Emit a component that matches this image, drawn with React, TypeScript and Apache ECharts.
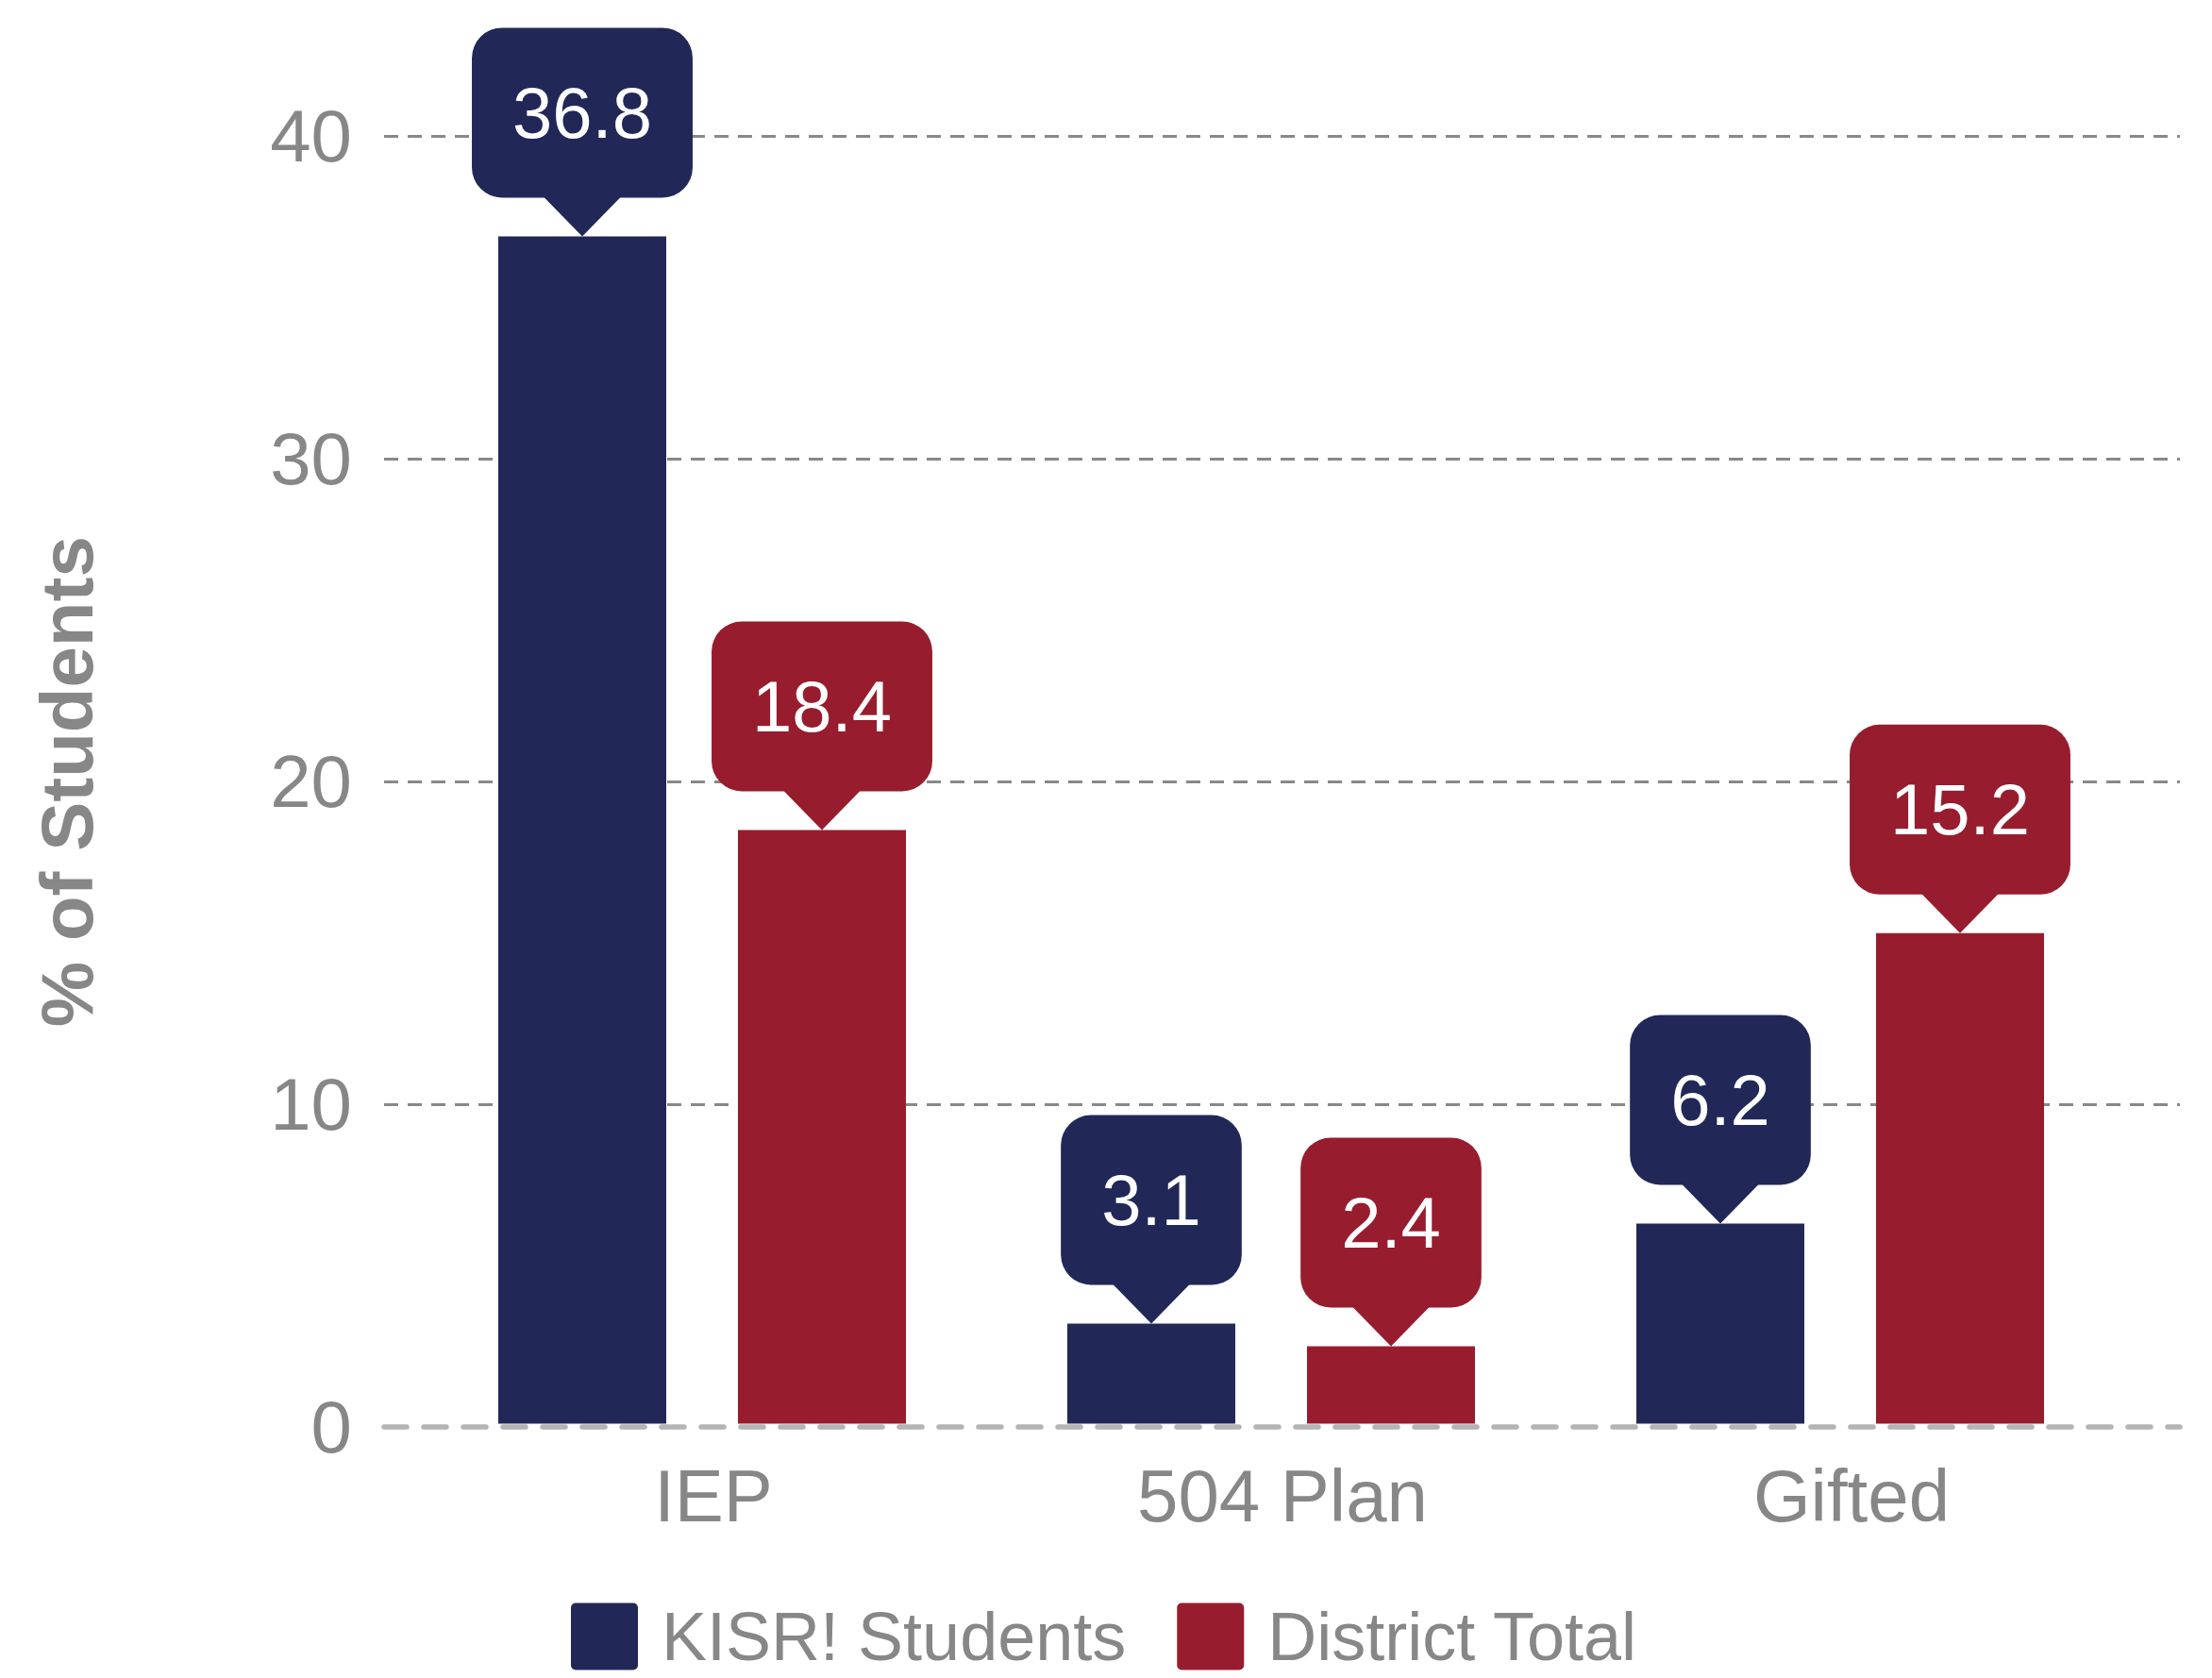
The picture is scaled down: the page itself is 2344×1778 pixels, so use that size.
import React, { useEffect, useRef } from 'react';
import * as echarts from 'echarts';

const categories = ['IEP', '504 Plan', 'Gifted'];
const kisrValues = [36.8, 3.1, 6.2];
const districtValues = [18.4, 2.4, 15.2];
const seriesNames = ['KISR! Students', 'District Total'];
const yTicks = [0, 10, 20, 30, 40];

const NAVY = '#212858';
const RED = '#971d2e';
const GRAY = '#878787';
const GRID_GRAY = '#888888';
const ZERO_GRAY = '#b4b4b4';
const FONT = '"Liberation Sans", Arial, Helvetica, sans-serif';
const BAR_W = 178;
const BAR_GAP = 76;
const PTR_H = 41;
const PTR_W = 84;

const ICON = 'path://M7,0H93A7,7,0,0,1,100,7V93A7,7,0,0,1,93,100H7A7,7,0,0,1,0,93V7A7,7,0,0,1,7,0Z';

function calloutSeries(name: string, values: number[], color: string, side: number) {
  return {
    type: 'custom',
    name,
    xAxisIndex: 1,
    yAxisIndex: 1,
    data: values.map((v, i) => [i, v]),
    encode: { x: 0, y: 1 },
    z: 10,
    silent: true,
    renderItem: (params: any, api: any) => {
      const v = api.value(1);
      const p = api.coord([api.value(0), v]);
      const cx = p[0] + (side * (BAR_W + BAR_GAP)) / 2;
      const tipY = p[1];
      const bodyBottom = tipY - PTR_H;
      return {
        type: 'group',
        children: [
          {
            type: 'polygon',
            shape: {
              points: [
                [cx - PTR_W / 2, bodyBottom - 2],
                [cx + PTR_W / 2, bodyBottom - 2],
                [cx, tipY],
              ],
            },
            style: { fill: color },
          },
          {
            type: 'text',
            x: cx,
            y: bodyBottom,
            style: {
              text: Number(v).toFixed(1),
              fill: '#ffffff',
              fontSize: 76,
              fontFamily: FONT,
              align: 'center',
              verticalAlign: 'bottom',
              backgroundColor: color,
              padding: [52, 43, 52, 43],
              borderRadius: 32,
              lineHeight: 76,
            },
          },
        ],
      };
    },
  };
}

export default function App() {
  const ref = useRef<HTMLDivElement>(null);

  useEffect(() => {
    if (!ref.current) return;
    const chart = echarts.init(ref.current, undefined, { renderer: 'svg' });
    const yMin = yTicks[0];
    const yMax = yTicks[yTicks.length - 1];
    const yInterval = yTicks[1] - yTicks[0];

    chart.setOption({
      animation: false,
      backgroundColor: '#ffffff',
      textStyle: { fontFamily: FONT },
      grid: [
        { left: 407, right: 34, top: 144.3, bottom: 266, containLabel: false, outerBoundsMode: 'none' },
        { left: 442.5, right: 92.5, top: 141, bottom: 269.5, containLabel: false, outerBoundsMode: 'none' },
      ],
      legend: {
        data: seriesNames,
        left: 600,
        top: 1693,
        itemWidth: 71,
        itemHeight: 71,
        itemGap: 54,
        icon: ICON,
        textStyle: {
          fontSize: 72,
          lineHeight: 60,
          color: GRAY,
          fontFamily: FONT,
          padding: [0, 0, 0, 20],
        },
      },
      xAxis: [
        {
          type: 'category',
          gridIndex: 0,
          data: categories,
          axisLabel: { show: false },
          axisTick: { show: false },
          splitLine: { show: false },
          axisLine: {
            show: true,
            lineStyle: { color: ZERO_GRAY, width: 5.5, type: [24, 18] },
          },
        },
        {
          type: 'category',
          gridIndex: 1,
          data: categories,
          axisLine: { show: false },
          axisTick: { show: false },
          splitLine: { show: false },
          axisLabel: {
            fontSize: 78,
            color: GRAY,
            fontFamily: FONT,
            margin: 37.5,
            padding: [0, 0, 0, 24],
          },
        },
      ],
      yAxis: [
        {
          type: 'value',
          gridIndex: 0,
          min: yMin,
          max: yMax,
          interval: yInterval,
          axisLine: { show: false },
          axisTick: { show: false },
          axisLabel: { fontSize: 78, color: GRAY, fontFamily: FONT, margin: 34 },
          splitLine: {
            show: true,
            lineStyle: {
              color: yTicks.map((t) => (t === 0 ? 'rgba(0,0,0,0)' : GRID_GRAY)),
              width: 3.2,
              type: [15, 10],
            },
          },
          name: '% of Students',
          nameLocation: 'middle',
          nameGap: 297,
          nameRotate: 90,
          nameTextStyle: { fontSize: 78, fontWeight: 'bold', color: GRAY, fontFamily: FONT },
        },
        {
          type: 'value',
          gridIndex: 1,
          min: yMin,
          max: yMax,
          interval: yInterval,
          show: false,
          splitLine: { show: false },
        },
      ],
      series: [
        {
          type: 'bar',
          name: seriesNames[0],
          xAxisIndex: 1,
          yAxisIndex: 1,
          data: kisrValues,
          barWidth: BAR_W,
          barGap: `${(BAR_GAP / BAR_W) * 100}%`,
          itemStyle: { color: NAVY },
        },
        {
          type: 'bar',
          name: seriesNames[1],
          xAxisIndex: 1,
          yAxisIndex: 1,
          data: districtValues,
          barWidth: BAR_W,
          barGap: `${(BAR_GAP / BAR_W) * 100}%`,
          itemStyle: { color: RED },
        },
        calloutSeries(seriesNames[0] + ' label', kisrValues, NAVY, -1),
        calloutSeries(seriesNames[1] + ' label', districtValues, RED, 1),
      ],
    });

    return () => chart.dispose();
  }, []);

  return (
    <div
      ref={ref}
      style={{ position: 'fixed', left: 0, top: 0, width: 2344, height: 1778, background: '#fff' }}
    />
  );
}
